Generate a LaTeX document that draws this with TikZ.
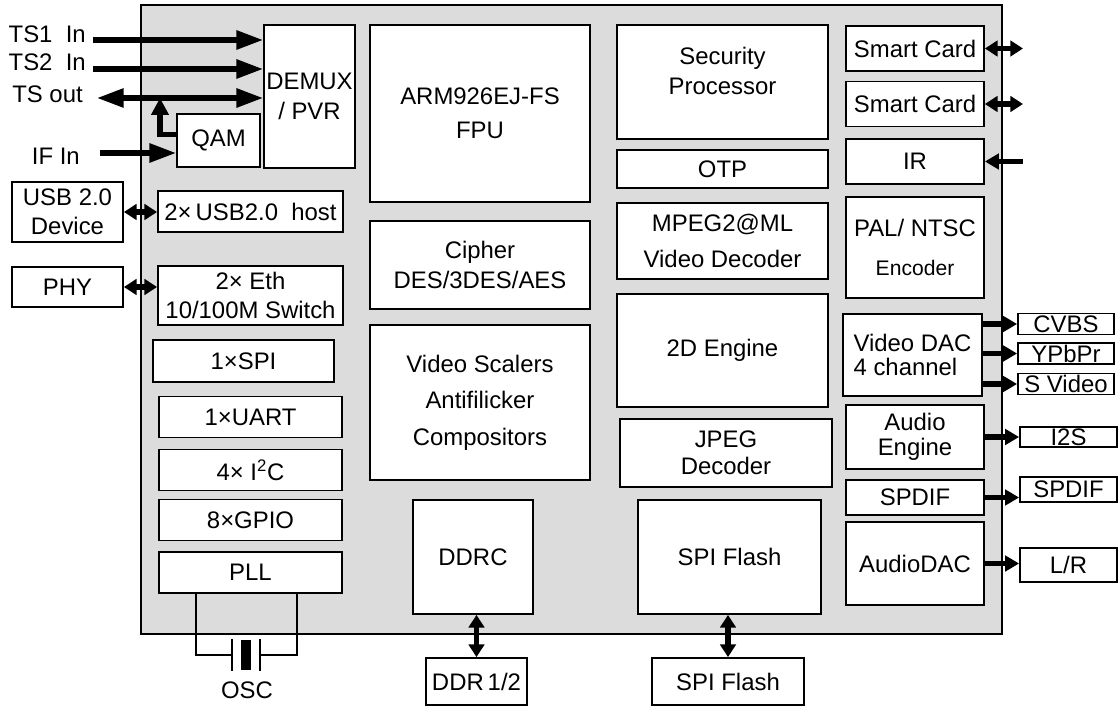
\documentclass[tikz,border=0pt]{standalone}
\usepackage{fontspec}
\setmainfont{Liberation Sans}
\usetikzlibrary{arrows.meta}
\definecolor{chipgray}{RGB}{220,220,220}

\begin{document}
\begin{tikzpicture}[x=0.025cm, y=-0.025cm,
  blk/.style={draw, line width=1.3pt, fill=white, inner sep=0pt, align=center, font=\fontsize{17}{21}\selectfont},
  wh/.style 2 args={minimum width=#1*0.025cm, minimum height=#2*0.025cm},
  note/.style={inner sep=0pt, font=\fontsize{17}{21}\selectfont},
  bus/.style={line width=3.6pt, -{Triangle[length=19pt,width=13pt]}},
  link/.style={line width=3.6pt, {Triangle[length=9pt,width=11pt]}-{Triangle[length=9pt,width=11pt]}},
  outp/.style={line width=3.6pt, -{Triangle[length=10pt,width=11pt]}},
  wire/.style={line width=1.3pt}
]
\useasboundingbox (0,0) rectangle (1120,708);

% chip outline
\node[draw, line width=1.6pt, fill=chipgray, inner sep=0pt, wh={861}{629}] (chip) at (571.5,319.5) {};

% transport stream front end
\node[blk, wh={91}{143}] (demux) at (309.5,96.5) {DEMUX\\/ PVR};
\node[blk, wh={83}{53}] (qam) at (218.5,140.5) {QAM};
\node[note, anchor=base east] (ts1) at (86,42.5) {TS1~ In};
\node[note, anchor=base east] (ts2) at (86,71) {TS2~ In};
\node[note, anchor=base east] (tsout) at (83,103) {TS out};
\node[note, anchor=base east] (ifin) at (80,165) {IF In};
\coordinate (ts1p) at (93,40);
\coordinate (ts2p) at (93,69);
\coordinate (tsop) at (97,98);
\coordinate (ifp) at (100,153);
\coordinate (tsq) at (160,98);
\draw[bus] (ts1p) -- (ts1p -| demux.west);
\draw[bus] (ts2p) -- (ts2p -| demux.west);
\draw[bus, {Triangle[length=19pt,width=13pt]}-{Triangle[length=19pt,width=13pt]}] (tsop) -- (tsop -| demux.west);
\draw[bus] (ifp) -- (ifp -| qam.west);
\draw[line width=3.6pt, -{Triangle[length=12pt,width=12pt]}] ([yshift=4pt]qam.west) -| (tsq);

% core blocks
\node[blk, wh={220}{177}] (arm) at (480,113.5) {ARM926EJ-FS\\[3pt]FPU};
\node[blk, wh={220}{88}] (cipher) at (480,265) {Cipher\\DES/3DES/AES};
\node[blk, wh={220}{155}] (vsc) at (480,402.5) {Video Scalers\\[5pt]Antifilicker\\[5pt]Compositors};
\node[blk, wh={120}{114}] (ddrc) at (473,557) {DDRC};
\node[blk, wh={211}{114}, text depth=16pt] (sec) at (722.5,82) {Security\\Processor};
\node[blk, wh={211}{38}] (otp) at (722.5,169) {OTP};
\node[blk, wh={211}{76}] (mpeg) at (722.5,241) {MPEG2@ML\\[4pt]Video Decoder};
\node[blk, wh={211}{113}] (eng2d) at (722.5,350.5) {2D Engine};
\node[blk, wh={212}{68}] (jpeg) at (726,453) {JPEG\\[-2pt]Decoder};
\node[blk, wh={183}{114}] (spif) at (729.5,557) {SPI Flash};

% left peripherals
\node[blk, wh={185}{41}] (usbh) at (250.5,211.5) {2×\,USB2.0~ host};
\node[blk, wh={185}{59}] (eth) at (250.5,295.5) {2× Eth\\10/100M Switch};
\node[blk, wh={181}{42}] (spi) at (243.5,361) {1×SPI};
\foreach \n/\y/\txt in {uart/417/1×UART, i2c/470/4× I\textsuperscript{2}C, gpio/520/8×GPIO, pll/572.5/PLL}
  \node[blk, wh={183}{41}] (\n) at (250.5,\y) {\txt};
\node[blk, wh={111}{60}] (usbd) at (67.5,212) {USB 2.0\\Device};
\node[blk, wh={111}{40}] (phy) at (67.5,287) {PHY};
\draw[link] (usbd.east) -- (usbd.east -| usbh.west);
\draw[link] (phy.east) -- (phy.east -| eth.west);

% right peripherals
\foreach \n/\y in {sc1/48.5, sc2/104}
  \node[blk, wh={138}{45}] (\n) at (915,\y) {Smart Card};
\node[blk, wh={138}{45}] (ir) at (915,161.5) {IR};
\node[blk, wh={138}{101}] (pal) at (915,247.5) {PAL/ NTSC\\[7pt]{\fontsize{15}{18}\selectfont Encoder}};
\node[blk, wh={139}{82}, align=left] (vdac) at (912.5,355) {Video DAC\\[-4pt]4 channel};
\node[blk, wh={138}{64}] (aeng) at (915,437) {Audio\\[-3pt]Engine};
\node[blk, wh={138}{35}] (spdif) at (915,497.5) {SPDIF};
\node[blk, wh={138}{83}] (adac) at (915,563.5) {AudioDAC};
\coordinate (scend) at (1023,0);
\draw[link] (sc1.east) -- (sc1.east -| scend);
\draw[link] (sc2.east) -- (sc2.east -| scend);
\draw[outp] (ir.east -| scend) -- (ir.east);

% external outputs
\foreach \n/\y/\txt in {cvbs/324/CVBS, ypbpr/353.5/YPbPr, svid/384/S Video} {
  \node[blk, wh={96}{21}] (\n) at (1066,\y) {\txt};
  \draw[outp] (vdac.east |- \n) -- (\n.west);
}
\node[blk, wh={97}{20}] (i2s) at (1068.5,437) {I2S};
\node[blk, wh={97}{25}] (spdo) at (1068.5,489.5) {SPDIF};
\node[blk, wh={97}{34}] (lr) at (1068.5,565) {L/R};
\draw[outp] (aeng.east |- i2s) -- (i2s.west);
\draw[outp] (spdif.east) -- (spdif.east -| spdo.west);
\draw[outp] (adac.east) -- (adac.east -| lr.west);

% memories
\node[blk, wh={101}{47}] (ddr) at (476.5,681.5) {DDR\,1/2};
\node[blk, wh={152}{47}] (spfo) at (728,681.5) {SPI Flash};
\draw[link] (ddr.north) -- (ddr.north |- ddrc.south);
\draw[link] (spfo.north) -- (spfo.north |- spif.south);

% crystal
\coordinate (xa) at (196,655);
\coordinate (xb) at (297,655);
\coordinate (pl) at (232,655);
\coordinate (pr) at (260,655);
\draw[wire] (pll.south -| xa) |- (pl);
\draw[wire] (pll.south -| xb) |- (pr);
\draw[wire] (232,639) -- (232,671);
\draw[wire] (260,639) -- (260,671);
\fill (241,640) rectangle (251,670);
\node[note] (osc) at (247,690) {OSC};
\end{tikzpicture}
\end{document}
